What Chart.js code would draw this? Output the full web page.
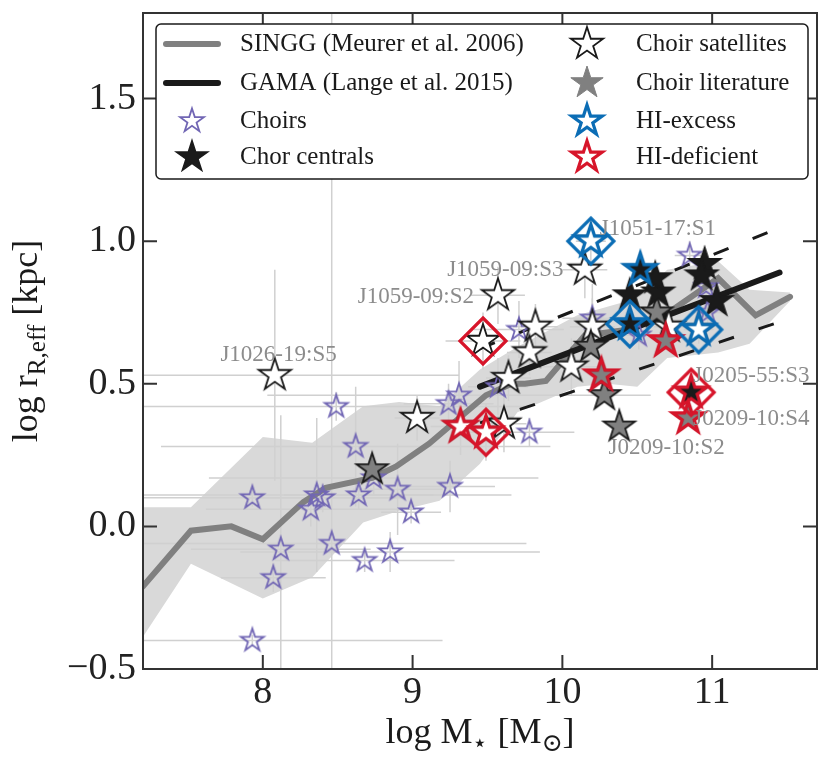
<!DOCTYPE html>
<html>
<head>
<meta charset="utf-8">
<title>Size - stellar mass relation</title>
<script src="https://cdn.jsdelivr.net/npm/chart.js@4.4.1/dist/chart.umd.min.js"></script>
<style>
  html, body { margin: 0; padding: 0; background: #fff; }
  canvas { display: block; }
</style>
</head>
<body>
<canvas id="sizeMass" width="830" height="767"></canvas>
<script>
// ---- axis ticks ----
const xTicks = [8, 9, 10, 11];
const xTickLabels = ['8', '9', '10', '11'];
const yTicks = [-0.5, 0.0, 0.5, 1.0, 1.5];
const yTickLabels = ['\u22120.5', '0.0', '0.5', '1.0', '1.5'];

// ---- SINGG (Meurer et al. 2006) median and scatter ----
const singgX = [7.20, 7.52, 7.79, 8.00, 8.27, 8.42, 8.73, 8.89, 9.11, 9.49, 9.66, 9.75, 9.89, 10.15, 10.45, 10.71, 11.04, 11.29, 11.52];
const singgY = [-0.21, -0.015, 0.00, -0.045, 0.085, 0.135, 0.17, 0.21, 0.29, 0.46, 0.50, 0.50, 0.51, 0.67, 0.69, 0.75, 0.87, 0.74, 0.805];
const bandX = [7.20, 7.52, 8.00, 8.33, 8.67, 8.91, 9.18, 9.45, 9.70, 10.10, 10.30, 10.50, 10.70, 11.04, 11.25, 11.52];
const bandUpper = [0.067, 0.067, 0.313, 0.293, 0.421, 0.436, 0.421, 0.55, 0.63, 0.74, 0.77, 0.80, 0.90, 0.93, 0.83, 0.82];
const bandLower = [-0.387, -0.131, -0.253, -0.178, 0.014, 0.055, 0.09, 0.22, 0.40, 0.49, 0.50, 0.49, 0.59, 0.61, 0.64, 0.79];

// ---- GAMA (Lange et al. 2015) fit and scatter ----
const gamaX = [9.45, 11.45];
const gamaY = [0.49, 0.89];
const gamaUpper = [0.623, 1.047];
const gamaLower = [0.363, 0.717];

// ---- Choirs ----
const choirX = [7.93, 8.07, 8.12, 7.93, 8.32, 8.36, 8.40, 8.46, 8.49, 8.62, 8.64, 8.68, 8.74, 8.85, 8.90, 8.99, 9.25, 9.24, 9.31, 9.57, 9.71, 9.78, 10.20, 10.51, 10.85, 10.96, 10.97];
const choirY = [-0.40, -0.18, -0.08, 0.10, 0.06, 0.11, 0.10, -0.06, 0.42, 0.28, 0.11, -0.12, 0.17, -0.09, 0.13, 0.05, 0.14, 0.43, 0.46, 0.49, 0.69, 0.33, 0.73, 0.67, 0.95, 0.84, 0.75];
const choirXErr = [1.27, 0.35, 0.6, 1.0, 0.7, 1.3, 0.5, 1.3, 1.3, 1.3, 0.5, 0.6, 1.1, 1.0, 0.3, 0.2, 0.3, 0.3, 1.28, 0.2, 0.3, 0.3, 0.2, 0.1, 0.1, 0.1, 0.1];
const choirYErr = [0.02, 0.05, 0.47, 0.03, 0.06, 0.27, 0.05, 2.0, 0.05, 0.21, 0.05, 0.04, 0.06, 0.07, 0.16, 0.04, 0.09, 0.07, 0.12, 0.1, 0.1, 0.05, 0.12, 0.05, 0.05, 0.1, 0.05];

// ---- Choir satellites ----
const satX = [8.08, 9.03, 9.57, 10.15, 9.47, 9.82, 9.78, 9.64, 10.06, 10.20, 9.61, 10.71, 10.91, 10.19, 9.32, 9.49];
const satY = [0.53, 0.38, 0.81, 0.90, 0.65, 0.70, 0.61, 0.52, 0.56, 0.70, 0.36, 0.70, 0.69, 1.00, 0.35, 0.33];
const satXErr = [1.23, 0.15, 0.18, 0.15, 0.25, 0.15, 0.15, 0.15, 0.2, 0.15, 0.15, 0.1, 0.1, 0.1, 0.2, 0.15];
const satYErr = [0.37, 0.08, 0.1, 0.1, 0.1, 0.08, 0.08, 0.08, 0.1, 0.1, 0.1, 0.05, 0.05, 0.08, 0.1, 0.1];

// ---- Choir literature ----
const litX = [8.73, 10.19, 10.28, 10.38, 10.63, 10.26, 10.69, 10.84];
const litY = [0.20, 0.63, 0.46, 0.35, 0.75, 0.53, 0.65, 0.38];

// ---- Chor centrals ----
const cenX = [10.95, 10.93, 11.03, 10.64, 10.62, 10.45, 10.52, 10.45, 10.86];
const cenY = [0.92, 0.88, 0.79, 0.82, 0.87, 0.81, 0.90, 0.71, 0.47];

// ---- HI-excess / HI-deficient ----
const excessX = [10.19, 10.52, 10.45, 10.91];
const excessY = [1.00, 0.90, 0.71, 0.69];
const deficientX = [9.32, 9.49, 10.26, 10.69, 10.86, 10.84];
const deficientY = [0.35, 0.33, 0.53, 0.65, 0.47, 0.38];
const blueBoxX = [10.19, 10.45, 10.91];
const blueBoxY = [1.00, 0.71, 0.69];
const redBoxX = [9.47, 9.49, 10.86];
const redBoxY = [0.65, 0.33, 0.47];

// ---- named galaxies ----
const labelText = ['J1051-17:S1', 'J1059-09:S3', 'J1059-09:S2', 'J1026-19:S5', 'J0205-55:S3', 'J0209-10:S4', 'J0209-10:S2'];
const labelX = [10.25, 10.007, 9.41, 8.105, 10.874, 10.874, 10.308];
const labelY = [1.044, 0.90, 0.805, 0.602, 0.526, 0.375, 0.276];
const labelAlign = ['left', 'right', 'right', 'center', 'left', 'left', 'left'];

const legendLeft = ['SINGG (Meurer et al. 2006)', 'GAMA (Lange et al. 2015)', 'Choirs', 'Chor centrals'];
const legendRight = ['Choir satellites', 'Choir literature', 'HI-excess', 'HI-deficient'];

const SERIF = '"Liberation Serif", "DejaVu Serif", serif';
const PURPLE = '#7166b4';
const RED = '#d7152a';
const BLUE = '#0b6db5';
const GREY = '#808080';
const BLACK = '#1a1a1a';

const toPoints = (xs, ys) => xs.map((x, i) => ({ x: x, y: ys[i] }));

function makeStar(r, fill, stroke, lw) {
    const size = 2 * Math.ceil(r + lw + 2);
    const c = document.createElement('canvas');
    c.width = size;
    c.height = size;
    const ctx = c.getContext('2d');
    ctx.translate(size / 2, size / 2);
    ctx.beginPath();
    for (let i = 0; i < 10; i++) {
        const rad = i % 2 === 0 ? r : r * 0.382;
        const a = -Math.PI / 2 + i * Math.PI / 5;
        ctx.lineTo(rad * Math.cos(a), rad * Math.sin(a));
    }
    ctx.closePath();
    if (fill) {
        ctx.fillStyle = fill;
        ctx.fill();
    }
    ctx.lineJoin = 'miter';
    ctx.lineWidth = lw;
    ctx.strokeStyle = stroke;
    ctx.stroke();
    return c;
}

function makeDiamond(r, stroke, lw) {
    const size = 2 * Math.ceil(r + lw + 2);
    const c = document.createElement('canvas');
    c.width = size;
    c.height = size;
    const ctx = c.getContext('2d');
    ctx.translate(size / 2, size / 2);
    ctx.beginPath();
    ctx.moveTo(0, -r);
    ctx.lineTo(r, 0);
    ctx.lineTo(0, r);
    ctx.lineTo(-r, 0);
    ctx.closePath();
    ctx.lineWidth = lw;
    ctx.strokeStyle = stroke;
    ctx.stroke();
    return c;
}

const choirStar = makeStar(12, null, PURPLE, 1.8);
const satStar = makeStar(17, '#ffffff', BLACK, 1.8);
const litStar = makeStar(16.5, GREY, BLACK, 1.8);
const cenStar = makeStar(17, BLACK, BLACK, 1.5);
const excessStar = makeStar(16.5, null, BLUE, 3.2);
const deficientStar = makeStar(16.5, null, RED, 3.2);
const blueDiamond = makeDiamond(23, BLUE, 3.2);
const redDiamond = makeDiamond(23, RED, 3.2);

function starSet(xs, ys, style, order) {
    return { data: toPoints(xs, ys), pointStyle: style, pointRadius: 12, showLine: false, order: order };
}

function lineSet(xs, ys, color, width, dash, order) {
    return {
        data: toPoints(xs, ys), showLine: true, borderColor: color, borderWidth: width,
        borderDash: dash, borderCapStyle: dash.length ? 'butt' : 'round', pointRadius: 0, order: order
    };
}

// light grey error bars, drawn after the band fill
const errorBars = {
    id: 'errorBars',
    beforeDatasetsDraw(chart) {
        const { ctx, chartArea, scales: { x, y } } = chart;
        ctx.save();
        ctx.beginPath();
        ctx.rect(chartArea.left, chartArea.top, chartArea.right - chartArea.left, chartArea.bottom - chartArea.top);
        ctx.clip();
        ctx.strokeStyle = '#d0d0d0';
        ctx.lineWidth = 1.5;
        const groups = [[choirX, choirY, choirXErr, choirYErr], [satX, satY, satXErr, satYErr]];
        groups.forEach(([xs, ys, xe, ye]) => {
            xs.forEach((xv, i) => {
                const px = x.getPixelForValue(xv);
                const py = y.getPixelForValue(ys[i]);
                ctx.beginPath();
                ctx.moveTo(x.getPixelForValue(xv - xe[i]), py);
                ctx.lineTo(x.getPixelForValue(xv + xe[i]), py);
                ctx.moveTo(px, y.getPixelForValue(ys[i] - ye[i]));
                ctx.lineTo(px, y.getPixelForValue(ys[i] + ye[i]));
                ctx.stroke();
            });
        });
        ctx.restore();
    }
};

// box round the plot with inward ticks on all four sides
const frame = {
    id: 'frame',
    afterDatasetsDraw(chart) {
        const { ctx, chartArea: a, scales: { x, y } } = chart;
        ctx.save();
        ctx.strokeStyle = '#333333';
        ctx.lineWidth = 2;
        ctx.strokeRect(a.left, a.top, a.right - a.left, a.bottom - a.top);
        ctx.beginPath();
        xTicks.forEach(v => {
            const px = x.getPixelForValue(v);
            ctx.moveTo(px, a.bottom);
            ctx.lineTo(px, a.bottom - 14);
            ctx.moveTo(px, a.top);
            ctx.lineTo(px, a.top + 14);
        });
        yTicks.forEach(v => {
            const py = y.getPixelForValue(v);
            ctx.moveTo(a.left, py);
            ctx.lineTo(a.left + 14, py);
            ctx.moveTo(a.right, py);
            ctx.lineTo(a.right - 14, py);
        });
        ctx.stroke();
        ctx.restore();
    }
};

const pointLabels = {
    id: 'pointLabels',
    afterDatasetsDraw(chart) {
        const { ctx, scales: { x, y } } = chart;
        ctx.save();
        ctx.font = '23px ' + SERIF;
        ctx.fillStyle = '#8c8c8c';
        ctx.textBaseline = 'middle';
        labelText.forEach((t, i) => {
            ctx.textAlign = labelAlign[i];
            ctx.fillText(t, x.getPixelForValue(labelX[i]), y.getPixelForValue(labelY[i]));
        });
        ctx.restore();
    }
};

function richText(ctx, parts, size) {
    // parts drawn centred on x = 0, baseline y = 0
    const widths = parts.map(p => {
        ctx.font = (p.sub ? size * 0.7 : size) + 'px ' + SERIF;
        return ctx.measureText(p.t).width;
    });
    let cx = -widths.reduce((s, w) => s + w, 0) / 2;
    parts.forEach((p, i) => {
        ctx.font = (p.sub ? size * 0.7 : size) + 'px ' + SERIF;
        ctx.fillText(p.t, cx, p.sub ? size * 0.22 : 0);
        cx += widths[i];
    });
}

const axisTitles = {
    id: 'axisTitles',
    afterDraw(chart) {
        const { ctx, chartArea: a } = chart;
        ctx.save();
        ctx.fillStyle = BLACK;
        ctx.textAlign = 'left';
        ctx.textBaseline = 'alphabetic';
        ctx.save();
        ctx.translate((a.left + a.right) / 2, 743);
        richText(ctx, [{ t: 'log M' }, { t: '\u22C6', sub: true }, { t: ' [M' }, { t: '\u2299', sub: true }, { t: ']' }], 36);
        ctx.restore();
        ctx.translate(37, (a.top + a.bottom) / 2);
        ctx.rotate(-Math.PI / 2);
        richText(ctx, [{ t: 'log r' }, { t: 'R,eff', sub: true }, { t: ' [kpc]' }], 36);
        ctx.restore();
    }
};

const legendBox = {
    id: 'legendBox',
    afterDraw(chart) {
        const ctx = chart.ctx;
        const rows = [44, 83, 121, 157];
        ctx.save();
        ctx.beginPath();
        ctx.roundRect(156, 24, 652, 155, 5);
        ctx.fillStyle = '#ffffff';
        ctx.fill();
        ctx.lineWidth = 1.5;
        ctx.strokeStyle = BLACK;
        ctx.stroke();

        ctx.lineCap = 'round';
        ctx.lineWidth = 6;
        [GREY, BLACK].forEach((c, i) => {
            ctx.strokeStyle = c;
            ctx.beginPath();
            ctx.moveTo(166, rows[i]);
            ctx.lineTo(218, rows[i]);
            ctx.stroke();
        });
        const leftMarks = [null, null, makeStar(12.5, null, PURPLE, 1.8), makeStar(16.5, BLACK, BLACK, 1.5)];
        const rightMarks = [makeStar(17, '#ffffff', BLACK, 1.8), makeStar(17, GREY, GREY, 1),
            makeStar(16, '#ffffff', BLUE, 3.2), makeStar(16, '#ffffff', RED, 3.2)];
        leftMarks.forEach((m, i) => {
            if (m) ctx.drawImage(m, 192 - m.width / 2, rows[i] - m.height / 2);
        });
        rightMarks.forEach((m, i) => {
            ctx.drawImage(m, 587 - m.width / 2, rows[i] - m.height / 2);
        });

        ctx.fillStyle = BLACK;
        ctx.font = '25px ' + SERIF;
        ctx.textAlign = 'left';
        ctx.textBaseline = 'middle';
        legendLeft.forEach((t, i) => ctx.fillText(t, 240, rows[i]));
        legendRight.forEach((t, i) => ctx.fillText(t, 636, rows[i]));
        ctx.restore();
    }
};

new Chart(document.getElementById('sizeMass'), {
    type: 'scatter',
    data: {
        datasets: [
            { data: toPoints(bandX, bandUpper), showLine: true, borderWidth: 0, pointRadius: 0, fill: '+1', backgroundColor: '#d9d9d9', order: 10 },
            { data: toPoints(bandX, bandLower), showLine: true, borderWidth: 0, pointRadius: 0, fill: false, order: 10 },
            lineSet(singgX, singgY, GREY, 6, [], 9),
            lineSet(gamaX, gamaY, BLACK, 6, [], 8),
            lineSet(gamaX, gamaUpper, BLACK, 3, [16, 26], 8),
            lineSet(gamaX, gamaLower, BLACK, 3, [16, 26], 8),
            starSet(choirX, choirY, choirStar, 7),
            starSet(satX, satY, satStar, 6),
            starSet(litX, litY, litStar, 5),
            starSet(cenX, cenY, cenStar, 4),
            starSet(excessX, excessY, excessStar, 3),
            starSet(deficientX, deficientY, deficientStar, 3),
            starSet(blueBoxX, blueBoxY, blueDiamond, 2),
            starSet(redBoxX, redBoxY, redDiamond, 2)
        ]
    },
    options: {
        responsive: false,
        animation: false,
        events: [],
        layout: { padding: { top: 11, right: 11, left: 0, bottom: 0 } },
        plugins: {
            legend: { display: false },
            tooltip: { enabled: false },
            filler: { drawTime: 'beforeDatasetsDraw' }
        },
        scales: {
            x: {
                type: 'linear',
                min: 7.2,
                max: 11.7,
                grid: { display: false, drawTicks: false },
                border: { display: false },
                afterBuildTicks: s => { s.ticks = xTicks.map(v => ({ value: v })); },
                afterFit: s => {
                    s.height = 98;
                    s.paddingLeft = 0;
                    s.paddingRight = 0;
                },
                ticks: {
                    padding: 5, color: '#222222', autoSkip: false, maxRotation: 0,
                    font: { family: SERIF, size: 38, lineHeight: 1 },
                    callback: (v, i) => xTickLabels[i]
                }
            },
            y: {
                type: 'linear',
                min: -0.5,
                max: 1.8,
                grid: { display: false, drawTicks: false },
                border: { display: false },
                afterBuildTicks: s => { s.ticks = yTicks.map(v => ({ value: v })); },
                afterFit: s => {
                    s.width = 143;
                    s.paddingTop = 0;
                    s.paddingBottom = 0;
                },
                ticks: {
                    padding: 7, color: '#222222', autoSkip: false,
                    font: { family: SERIF, size: 38, lineHeight: 1 },
                    callback: (v, i) => yTickLabels[i]
                }
            }
        }
    },
    plugins: [errorBars, frame, pointLabels, axisTitles, legendBox]
});
</script>
</body>
</html>
